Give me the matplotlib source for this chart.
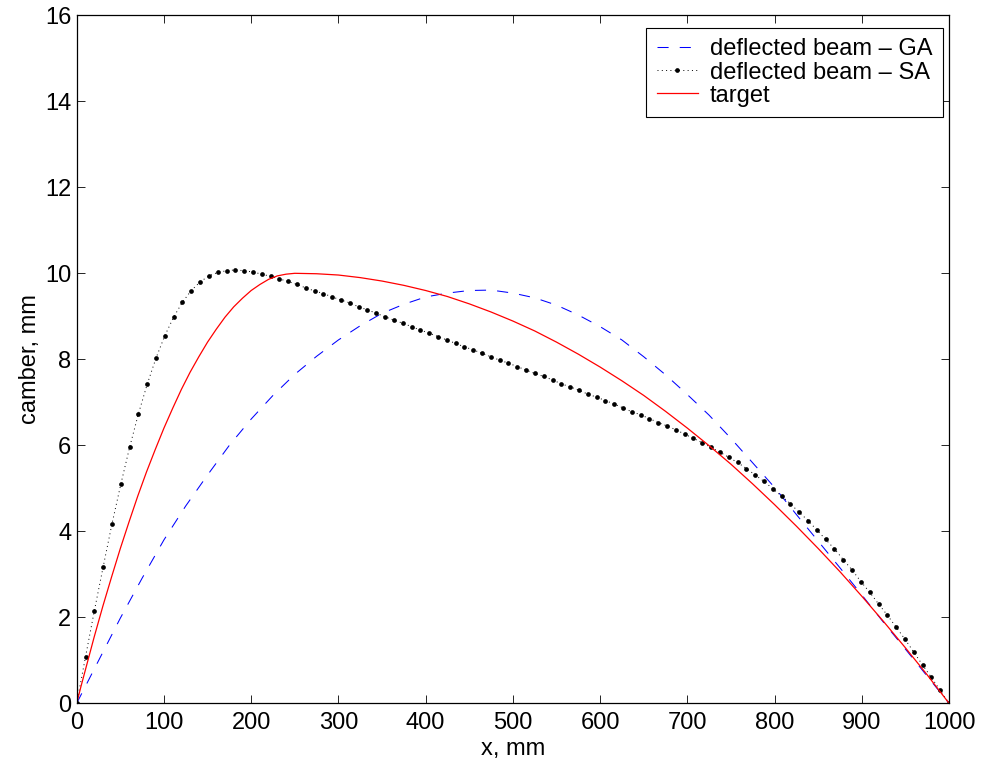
import numpy as np
import matplotlib
matplotlib.use("Agg")
import matplotlib.pyplot as plt

plt.rcParams['font.family'] = ['Liberation Sans', 'DejaVu Sans']
plt.rcParams['lines.scale_dashes'] = False

# ---- data ----
x_sa = np.linspace(0, 1000, 100)
y_sa = [0.00, 1.08, 2.15, 3.17, 4.17, 5.09, 5.95, 6.73, 7.42, 8.03,
        8.55, 8.98, 9.33, 9.60, 9.80, 9.94, 10.02, 10.06, 10.08, 10.06,
        10.03, 9.98, 9.93, 9.87, 9.81, 9.74, 9.66, 9.59, 9.53, 9.45,
        9.38, 9.31, 9.22, 9.15, 9.07, 8.99, 8.91, 8.84, 8.76, 8.68,
        8.61, 8.53, 8.45, 8.37, 8.29, 8.22, 8.14, 8.06, 7.98, 7.91,
        7.83, 7.75, 7.67, 7.60, 7.52, 7.43, 7.36, 7.28, 7.19, 7.12,
        7.04, 6.96, 6.87, 6.78, 6.71, 6.62, 6.53, 6.45, 6.36, 6.26,
        6.16, 6.06, 5.95, 5.84, 5.72, 5.60, 5.46, 5.31, 5.16, 4.99,
        4.82, 4.64, 4.44, 4.25, 4.03, 3.81, 3.59, 3.34, 3.10, 2.83,
        2.58, 2.31, 2.05, 1.77, 1.49, 1.19, 0.89, 0.60, 0.30, 0.00]

x_ga = [0, 25, 50, 75, 100, 125, 150, 175, 200, 225, 250, 275, 300, 325,
        350, 375, 400, 425, 450, 475, 500, 525, 550, 575, 600, 625, 650,
        675, 700, 725, 750, 775, 800, 825, 850, 875, 900, 925, 950, 975, 1000]
y_ga = [0.00, 0.99, 1.98, 2.91, 3.80, 4.59, 5.31, 6.00, 6.61, 7.16, 7.65,
        8.07, 8.45, 8.78, 9.07, 9.28, 9.45, 9.54, 9.60, 9.61, 9.54, 9.43,
        9.26, 9.03, 8.76, 8.45, 8.06, 7.64, 7.18, 6.70, 6.16, 5.59, 5.02,
        4.39, 3.77, 3.15, 2.52, 1.88, 1.26, 0.63, 0.00]

x_target = [0, 5, 10, 20, 30, 40, 50, 60, 70, 80, 90, 100, 110, 120, 130,
            140, 150, 160, 170, 180, 190, 200, 210, 220, 230, 240, 250,
            275, 300, 325, 350, 375, 400, 425, 450, 475, 500, 525, 550, 575,
            600, 625, 650, 675, 700, 725, 750, 775, 800, 825, 850, 875, 900,
            925, 950, 975, 1000]
y_target = [0.00, 0.40, 0.78, 1.54, 2.26, 2.94, 3.60, 4.22, 4.82, 5.38,
            5.90, 6.40, 6.86, 7.30, 7.70, 8.06, 8.40, 8.70, 8.98, 9.22,
            9.42, 9.60, 9.74, 9.86, 9.94, 9.98, 10.00,
            9.99, 9.96, 9.90, 9.82, 9.72, 9.60, 9.46, 9.29, 9.10, 8.89, 8.66,
            8.40, 8.12, 7.82, 7.50, 7.16, 6.79, 6.40, 5.99, 5.56, 5.10, 4.62,
            4.12, 3.60, 3.06, 2.49, 1.90, 1.29, 0.66, 0.00]

labels = ['deflected beam \u2013 GA', 'deflected beam \u2013 SA', 'target']
x_ticks = [0, 100, 200, 300, 400, 500, 600, 700, 800, 900, 1000]
y_ticks = [0, 2, 4, 6, 8, 10, 12, 14, 16]

fig = plt.figure(figsize=(9.81, 7.67), dpi=100)
ax = fig.add_axes([0.0782, 0.0831, 0.8892, 0.8969])

ax.plot(x_ga, y_ga, color='blue', lw=0.75, linestyle=(0, (8, 8)), label=labels[0])
ax.plot(x_sa, y_sa, color='black', lw=0.7, linestyle=(0, (0.7, 2.4)),
        marker='o', markersize=3.4, markeredgewidth=0, label=labels[1])
ax.plot(x_target, y_target, color='red', lw=0.9, label=labels[2])

ax.set_xlim(0, 1000)
ax.set_ylim(0, 16)
ax.set_xticks(x_ticks)
ax.set_yticks(y_ticks)
ax.tick_params(direction='in', length=6, width=0.6, top=True, right=True,
               labelsize=17)
ax.tick_params(axis='x', pad=6)
ax.tick_params(axis='y', pad=4)
for s in ax.spines.values():
    s.set_linewidth(0.9)

ax.set_xlabel('x, mm', fontsize=17, labelpad=3)
ax.set_ylabel('camber, mm', fontsize=17, labelpad=3)

leg = ax.legend(loc='upper right', bbox_to_anchor=(0.993, 0.982), fontsize=17,
                fancybox=False, edgecolor='black', framealpha=1,
                handlelength=1.75, handletextpad=0.5, labelspacing=0.05,
                borderpad=0.45, borderaxespad=0)
leg.get_frame().set_linewidth(0.8)

fig.savefig('out.png', dpi=100)
